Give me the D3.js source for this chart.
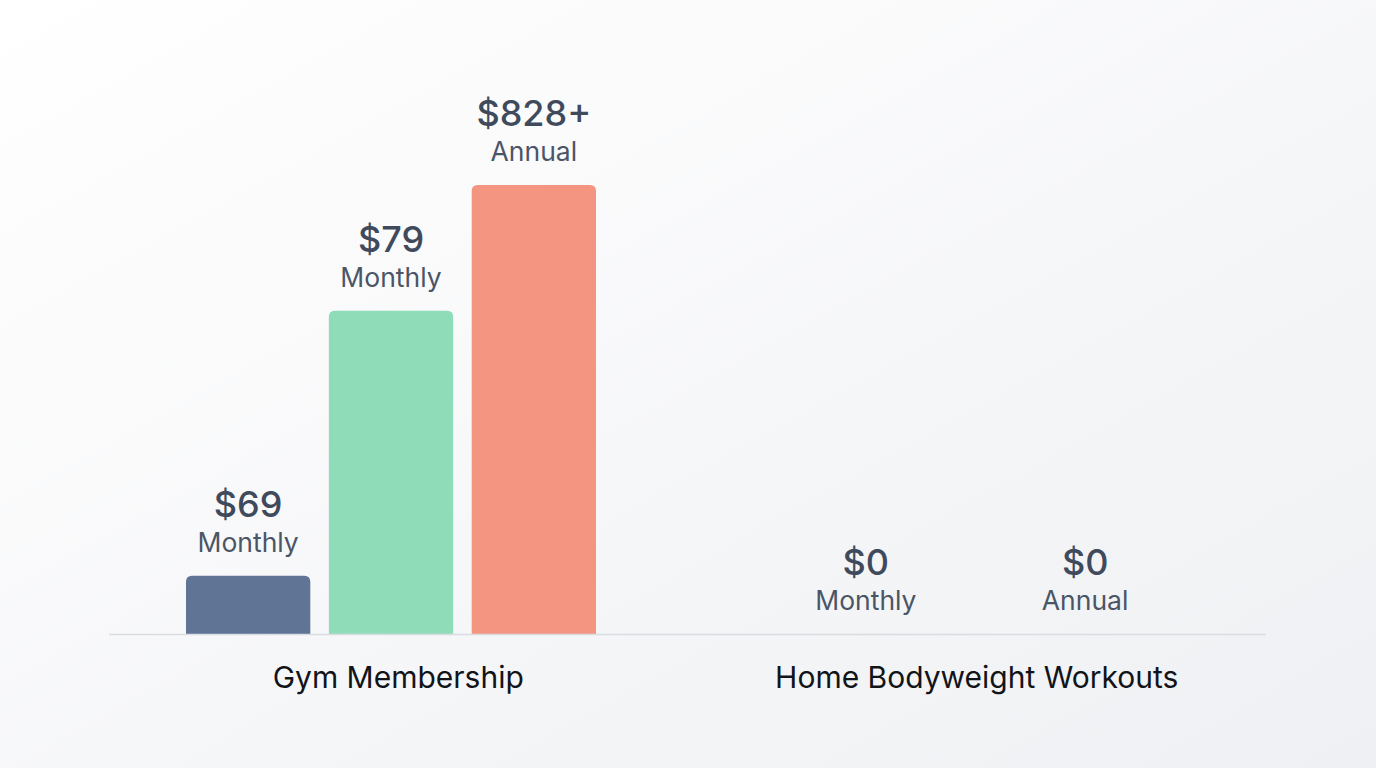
<!DOCTYPE html>
<html>
<head>
<meta charset="utf-8">
<script src="https://cdn.jsdelivr.net/npm/d3@7"></script>
<style>
  html, body { margin: 0; padding: 0; }
  body { width: 1376px; height: 768px; overflow: hidden; }
  svg { display: block; font-family: Inter, "Noto Sans", sans-serif; }
</style>
</head>
<body>
<svg id="chart" width="1376" height="768"></svg>
<script>
// ---- data ----
const categories = ["Gym Membership", "Home Bodyweight Workouts"];
const gymLabels = ["$69", "$79", "$828+"];
const gymPeriods = ["Monthly", "Monthly", "Annual"];
const gymValues = [69, 79, 828];
// relative bar height (chart is illustrative, not proportional), on a 0-100 scale
const gymLevels = [13, 72, 100];
const homeLabels = ["$0", "$0"];
const homePeriods = ["Monthly", "Annual"];
const homeValues = [0, 0];
const homeLevels = [0, 0];
const barColors = ["#607596", "#8fdcb8", "#f49581"];

// ---- layout ----
const W = 1376, H = 768;
const svg = d3.select("#chart");

const defs = svg.append("defs");
const grad = defs.append("linearGradient").attr("id", "bg")
  .attr("x1", "0").attr("y1", "0").attr("x2", "1").attr("y2", "1");
grad.append("stop").attr("offset", "0%").attr("stop-color", "#ffffff");
grad.append("stop").attr("offset", "100%").attr("stop-color", "#eff0f3");
svg.append("rect").attr("width", W).attr("height", H).attr("fill", "url(#bg)");

const x0 = d3.scaleBand().domain(categories).range([109, 1266]).padding(0);
const y = d3.scaleLinear().domain([0, 100]).range([634, 185]);

const groups = [
  { cat: categories[0], labels: gymLabels, periods: gymPeriods, values: gymValues, levels: gymLevels },
  { cat: categories[1], labels: homeLabels, periods: homePeriods, values: homeValues, levels: homeLevels }
];

const r = 6;
function topRounded(x, yTop, w, yBase) {
  const h = yBase - yTop;
  if (h <= 0) return "";
  const rr = Math.min(r, h, w / 2);
  return `M${x},${yBase} L${x},${yTop + rr} Q${x},${yTop} ${x + rr},${yTop} ` +
         `L${x + w - rr},${yTop} Q${x + w},${yTop} ${x + w},${yTop + rr} L${x + w},${yBase} Z`;
}

groups.forEach((g, gi) => {
  const idx = d3.range(g.values.length);
  const x1 = d3.scaleBand().domain(idx).range([77, 487]).paddingInner(0.13).paddingOuter(0);
  const gx = x0(g.cat);
  const layer = svg.append("g").attr("transform", `translate(${gx + (gi === 1 ? 6 : 0)},0)`);

  layer.selectAll("path.bar").data(idx).join("path")
    .attr("class", "bar")
    .attr("d", i => topRounded(x1(i), y(g.levels[i]), x1.bandwidth(), y(0)))
    .attr("fill", i => barColors[i % barColors.length]);

  layer.selectAll("text.val").data(idx).join("text")
    .attr("class", "val")
    .attr("x", i => x1(i) + x1.bandwidth() / 2)
    .attr("y", i => y(g.levels[i]) - 59)
    .attr("text-anchor", "middle")
    .attr("font-size", 36)
    .attr("font-weight", 500)
    .attr("fill", "#3f4a5c")
    .text(i => g.labels[i]);

  layer.selectAll("text.per").data(idx).join("text")
    .attr("class", "per")
    .attr("x", i => x1(i) + x1.bandwidth() / 2)
    .attr("y", i => y(g.levels[i]) - 24)
    .attr("text-anchor", "middle")
    .attr("font-size", 26.5)
    .attr("font-weight", 400)
    .attr("fill", "#4a5566")
    .text(i => g.periods[i]);
});

// baseline
svg.append("line")
  .attr("x1", x0.range()[0]).attr("x2", x0.range()[1])
  .attr("y1", y(0) + 0.5).attr("y2", y(0) + 0.5)
  .attr("stroke", "#d9dce1").attr("stroke-width", 1.5);

// category labels
svg.selectAll("text.cat").data(categories).join("text")
  .attr("class", "cat")
  .attr("x", d => x0(d) + x0.bandwidth() / 2)
  .attr("y", 688)
  .attr("text-anchor", "middle")
  .attr("font-size", 30)
  .attr("fill", "#111418")
  .text(d => d);
</script>
</body>
</html>
